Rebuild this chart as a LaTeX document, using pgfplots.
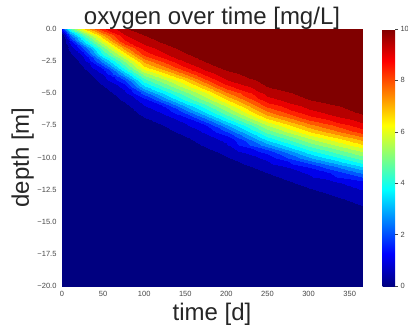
\documentclass[border=0pt]{standalone}
\usepackage{fontspec}
\setmainfont{Liberation Sans}
\usepackage{pgfplots}
\pgfplotsset{compat=1.18}
\definecolor{txt}{RGB}{38,38,38}
\definecolor{tck}{RGB}{70,70,70}
\begin{document}
\begin{tikzpicture}
\begin{axis}[
  name=ax, at={(0,0)}, anchor=south west,
  scale only axis, width=300pt, height=257pt,
  view={0}{90}, clip=false,
  xmin=0, xmax=365, ymin=-20, ymax=0,
  xtick={0,50,...,350},
  ytick={-20,-17.5,-15,-12.5,-10,-7.5,-5,-2.5,0},
  yticklabels={−20.0,−17.5,−15.0,−12.5,−10.0,−7.5,−5.0,−2.5,0.0},
  ztick=\empty,
  major tick length=0pt,
  /pgf/number format/assume math mode=true,
  tick label style={font=\fontsize{7.5}{9}\selectfont, text=tck},
  xticklabel style={anchor=north, yshift=-2pt},
  yticklabel style={anchor=east, xshift=-2pt},
  axis line style={draw=none},
  colormap/jet,
  point meta min=0, point meta max=10,
]
\addplot3[contour filled={number=20}, mesh/ordering=x varies] coordinates {
(0,0,1.5) (10,0,4.3) (25,0,6.3) (50,0,8.4) (75,0,9.35) (100,0,10) (125,0,10) (150,0,10) (175,0,10) (200,0,10) (250,0,10) (300,0,10) (365,0,10)

(0,-0.5,0.1) (10,-0.5,2.4) (25,-0.5,4.5) (50,-0.5,7.05) (75,-0.5,8.95) (100,-0.5,9.5) (125,-0.5,9.9) (150,-0.5,10) (175,-0.5,10) (200,-0.5,10) (250,-0.5,10) (300,-0.5,10) (365,-0.5,10)

(0,-1,0) (10,-1,1.15) (25,-1,3.3) (50,-1,5.83) (75,-1,8.3) (100,-1,9.19) (125,-1,9.6) (150,-1,9.85) (175,-1,10) (200,-1,10) (250,-1,10) (300,-1,10) (365,-1,10)

(0,-1.5,0) (10,-1.5,0.7) (25,-1.5,2.0) (50,-1.5,4.82) (75,-1.5,7.22) (100,-1.5,8.73) (125,-1.5,9.29) (150,-1.5,9.7) (175,-1.5,9.9) (200,-1.5,10) (250,-1.5,10) (300,-1.5,10) (365,-1.5,10)

(0,-2,0) (10,-2,0.35) (25,-2,1.1) (50,-2,3.93) (75,-2,6.04) (100,-2,8.07) (125,-2,8.92) (150,-2,9.41) (175,-2,9.75) (200,-2,9.95) (250,-2,10) (300,-2,10) (365,-2,10)

(0,-2.5,0) (10,-2.5,0.1) (25,-2.5,0.75) (50,-2.5,2.79) (75,-2.5,5.0) (100,-2.5,7.17) (125,-2.5,8.22) (150,-2.5,9.06) (175,-2.5,9.55) (200,-2.5,9.8) (250,-2.5,10) (300,-2.5,10) (365,-2.5,10)

(0,-3,0) (10,-3,0) (25,-3,0.45) (50,-3,1.59) (75,-3,4.11) (100,-3,6.25) (125,-3,7.34) (150,-3,8.4) (175,-3,9.21) (200,-3,9.62) (250,-3,9.95) (300,-3,10) (365,-3,10)

(0,-3.5,0) (10,-3.5,0) (25,-3.5,0.2) (50,-3.5,1.04) (75,-3.5,3.07) (100,-3.5,5.21) (125,-3.5,6.37) (150,-3.5,7.53) (175,-3.5,8.7) (200,-3.5,9.32) (250,-3.5,9.85) (300,-3.5,10) (365,-3.5,10)

(0,-4,0) (10,-4,0) (25,-4,0.05) (50,-4,0.74) (75,-4,1.93) (100,-4,4.29) (125,-4,5.44) (150,-4,6.52) (175,-4,7.94) (200,-4,8.97) (250,-4,9.7) (300,-4,9.95) (365,-4,10)

(0,-4.5,0) (10,-4.5,0) (25,-4.5,0) (50,-4.5,0.45) (75,-4.5,1.14) (100,-4.5,3.31) (125,-4.5,4.56) (150,-4.5,5.64) (175,-4.5,6.91) (200,-4.5,8.26) (250,-4.5,9.49) (300,-4.5,9.85) (365,-4.5,10)

(0,-5,0) (10,-5,0) (25,-5,0) (50,-5,0.2) (75,-5,0.86) (100,-5,2.23) (125,-5,3.71) (150,-5,4.82) (175,-5,5.96) (200,-5,7.38) (250,-5,9.19) (300,-5,9.7) (365,-5,9.95)

(0,-5.5,0) (10,-5.5,0) (25,-5.5,0) (50,-5.5,0.05) (75,-5.5,0.58) (100,-5.5,1.22) (125,-5.5,2.64) (150,-5.5,4.02) (175,-5.5,5.16) (200,-5.5,6.41) (250,-5.5,8.77) (300,-5.5,9.49) (365,-5.5,9.85)

(0,-6,0) (10,-6,0) (25,-6,0) (50,-6,0) (75,-6,0.33) (100,-6,0.96) (125,-6,1.57) (150,-6,3.06) (175,-6,4.33) (200,-6,5.55) (250,-6,8.13) (300,-6,9.19) (365,-6,9.72)

(0,-6.5,0) (10,-6.5,0) (25,-6.5,0) (50,-6.5,0) (75,-6.5,0.12) (100,-6.5,0.69) (125,-6.5,1.07) (150,-6.5,2.01) (175,-6.5,3.46) (200,-6.5,4.72) (250,-6.5,7.3) (300,-6.5,8.78) (365,-6.5,9.55)

(0,-7,0) (10,-7,0) (25,-7,0) (50,-7,0) (75,-7,0) (100,-7,0.42) (125,-7,0.81) (150,-7,1.18) (175,-7,2.49) (200,-7,3.88) (250,-7,6.43) (300,-7,8.15) (365,-7,9.25)

(0,-7.5,0) (10,-7.5,0) (25,-7.5,0) (50,-7.5,0) (75,-7.5,0) (100,-7.5,0.2) (125,-7.5,0.55) (150,-7.5,0.93) (175,-7.5,1.52) (200,-7.5,2.92) (250,-7.5,5.51) (300,-7.5,7.34) (365,-7.5,8.86)

(0,-8,0) (10,-8,0) (25,-8,0) (50,-8,0) (75,-8,0) (100,-8,0.05) (125,-8,0.3) (150,-8,0.67) (175,-8,1.08) (200,-8,1.93) (250,-8,4.64) (300,-8,6.46) (365,-8,8.19)

(0,-8.5,0) (10,-8.5,0) (25,-8.5,0) (50,-8.5,0) (75,-8.5,0) (100,-8.5,0) (125,-8.5,0.1) (150,-8.5,0.42) (175,-8.5,0.84) (200,-8.5,1.17) (250,-8.5,3.83) (300,-8.5,5.56) (365,-8.5,7.33)

(0,-9,0) (10,-9,0) (25,-9,0) (50,-9,0) (75,-9,0) (100,-9,0) (125,-9,0) (150,-9,0.2) (175,-9,0.6) (200,-9,0.93) (250,-9,2.8) (300,-9,4.69) (365,-9,6.4)

(0,-9.5,0) (10,-9.5,0) (25,-9.5,0) (50,-9.5,0) (75,-9.5,0) (100,-9.5,0) (125,-9.5,0) (150,-9.5,0.05) (175,-9.5,0.35) (200,-9.5,0.69) (250,-9.5,1.76) (300,-9.5,3.88) (365,-9.5,5.58)

(0,-10,0) (10,-10,0) (25,-10,0) (50,-10,0) (75,-10,0) (100,-10,0) (125,-10,0) (150,-10,0) (175,-10,0.15) (200,-10,0.44) (250,-10,1.12) (300,-10,2.91) (365,-10,4.76)

(0,-10.5,0) (10,-10.5,0) (25,-10.5,0) (50,-10.5,0) (75,-10.5,0) (100,-10.5,0) (125,-10.5,0) (150,-10.5,0) (175,-10.5,0.03) (200,-10.5,0.22) (250,-10.5,0.86) (300,-10.5,1.91) (365,-10.5,3.92)

(0,-11,0) (10,-11,0) (25,-11,0) (50,-11,0) (75,-11,0) (100,-11,0) (125,-11,0) (150,-11,0) (175,-11,0) (200,-11,0.07) (250,-11,0.6) (300,-11,1.17) (365,-11,2.98)

(0,-11.5,0) (10,-11.5,0) (25,-11.5,0) (50,-11.5,0) (75,-11.5,0) (100,-11.5,0) (125,-11.5,0) (150,-11.5,0) (175,-11.5,0) (200,-11.5,0) (250,-11.5,0.35) (300,-11.5,0.92) (365,-11.5,2.02)

(0,-12,0) (10,-12,0) (25,-12,0) (50,-12,0) (75,-12,0) (100,-12,0) (125,-12,0) (150,-12,0) (175,-12,0) (200,-12,0) (250,-12,0.15) (300,-12,0.68) (365,-12,1.21)

(0,-12.5,0) (10,-12.5,0) (25,-12.5,0) (50,-12.5,0) (75,-12.5,0) (100,-12.5,0) (125,-12.5,0) (150,-12.5,0) (175,-12.5,0) (200,-12.5,0) (250,-12.5,0.03) (300,-12.5,0.43) (365,-12.5,1.0)

(0,-13,0) (10,-13,0) (25,-13,0) (50,-13,0) (75,-13,0) (100,-13,0) (125,-13,0) (150,-13,0) (175,-13,0) (200,-13,0) (250,-13,0) (300,-13,0.22) (365,-13,0.8)

(0,-13.5,0) (10,-13.5,0) (25,-13.5,0) (50,-13.5,0) (75,-13.5,0) (100,-13.5,0) (125,-13.5,0) (150,-13.5,0) (175,-13.5,0) (200,-13.5,0) (250,-13.5,0) (300,-13.5,0.07) (365,-13.5,0.6)

(0,-14,0) (10,-14,0) (25,-14,0) (50,-14,0) (75,-14,0) (100,-14,0) (125,-14,0) (150,-14,0) (175,-14,0) (200,-14,0) (250,-14,0) (300,-14,0) (365,-14,0.4)

(0,-14.5,0) (10,-14.5,0) (25,-14.5,0) (50,-14.5,0) (75,-14.5,0) (100,-14.5,0) (125,-14.5,0) (150,-14.5,0) (175,-14.5,0) (200,-14.5,0) (250,-14.5,0) (300,-14.5,0) (365,-14.5,0.22)

(0,-15,0) (10,-15,0) (25,-15,0) (50,-15,0) (75,-15,0) (100,-15,0) (125,-15,0) (150,-15,0) (175,-15,0) (200,-15,0) (250,-15,0) (300,-15,0) (365,-15,0.08)

(0,-20,0) (10,-20,0) (25,-20,0) (50,-20,0) (75,-20,0) (100,-20,0) (125,-20,0) (150,-20,0) (175,-20,0) (200,-20,0) (250,-20,0) (300,-20,0) (365,-20,0)
};
\node[anchor=base, font=\fontsize{24}{28}\selectfont, text=txt] at (axis description cs:0.5,1.0156) {oxygen over time [mg/L]};
\node[anchor=base, font=\fontsize{24}{28}\selectfont, text=txt] at (axis description cs:0.5,-0.1323) {time [d]};
\node[anchor=base, rotate=90, font=\fontsize{24}{28}\selectfont, text=txt] at (axis description cs:-0.11,0.5) {depth [m]};
\end{axis}
% continuous colour bar, as in the reference
\begin{axis}[
  at={(0,0)}, anchor=south west,
  scale only axis, width=300pt, height=257pt,
  hide axis, xmin=0, xmax=1, ymin=0, ymax=10,
  colormap/jet,
  point meta min=0, point meta max=10,
  colorbar,
  colorbar style={
    at={(parent axis.north east)}, anchor=north west, xshift=12pt,
    scale only axis, width=12.5pt, height=257pt,
    ytick={0,2,4,6,8,10},
    axis y line*=right,
    ytick pos=right, yticklabel pos=right,
    major tick length=3pt, tick align=outside,
    ytick style={draw=tck, line width=0.5pt},
    /pgf/number format/assume math mode=true,
    yticklabel style={font=\fontsize{7.5}{9}\selectfont, text=tck, xshift=-1pt},
    axis line style={draw=none},
  },
]
\addplot[draw=none, point meta=y] coordinates {(0,0) (1,10)};
\end{axis}
\pgfresetboundingbox
\useasboundingbox ([shift={(-62pt,-43pt)}]ax.south west) rectangle ([shift={(46pt,29pt)}]ax.north east);
\end{tikzpicture}
\end{document}
